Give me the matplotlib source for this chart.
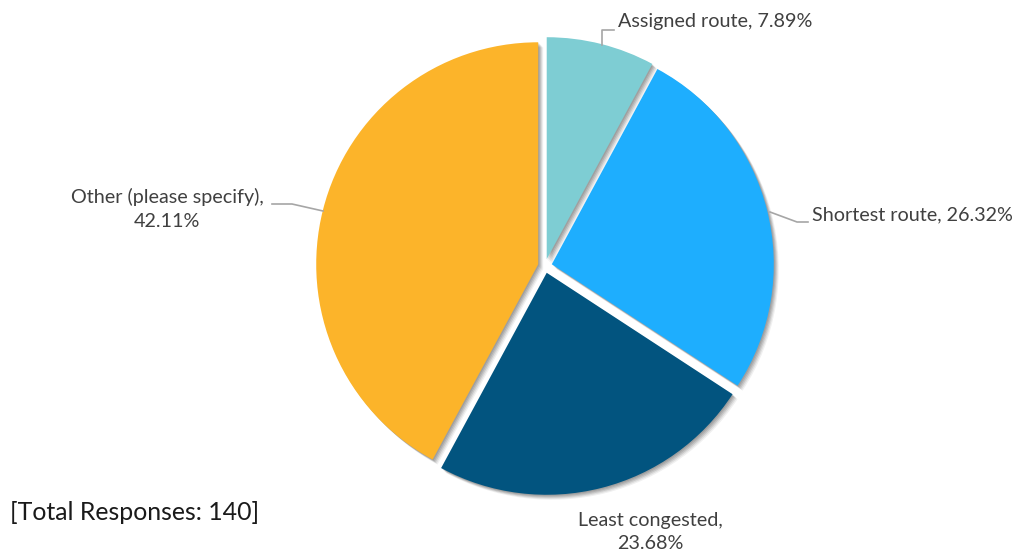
import matplotlib.pyplot as plt

# 数据
labels = ['Assigned route', 'Shortest route', 'Least congested', 'Other (please specify)']
values = [7.89, 26.32, 23.68, 42.11]
colors = ['#7ECDD3', '#1EAEFE', '#02547F', '#FCB42A']
total_responses = 140

plt.rcParams['font.family'] = ['Lato', 'DejaVu Sans']

fig = plt.figure(figsize=(10.18, 5.55), dpi=100)
ax = fig.add_axes([0, 0, 1, 1])

cx, cy, r = 545, 289, 222
explode = [7] * len(values)

# 模糊阴影：几层偏移的灰色饼图叠加
for dx, dy, a in [(1, -1, 0.10), (2, -2, 0.10), (3, -3, 0.10), (4, -4, 0.08), (5, -5, 0.06)]:
    ax.pie(values, radius=r, center=(cx + dx, cy + dy), startangle=90, counterclock=False,
           explode=explode, colors=['#000000'] * len(values),
           wedgeprops=dict(alpha=a, linewidth=0), frame=True)

ax.pie(values, radius=r, center=(cx, cy), startangle=90, counterclock=False,
       explode=explode, colors=colors, wedgeprops=dict(linewidth=0), frame=True)
ax.set_xlim(0, 1018)
ax.set_ylim(0, 555)
ax.set_aspect('equal')
ax.axis('off')

txt = '#404040'
line = '#a6a6a6'
fs = 14.2

# 标签与引线
ax.plot([602, 602, 614], [555 - 45, 555 - 30, 555 - 30], color=line, lw=1.2)
ax.text(618, 555 - 22, f'{labels[0]}, {values[0]:.2f}%', color=txt, fontsize=fs,
        ha='left', va='center')

ax.plot([770, 797, 808], [555 - 212, 555 - 222, 555 - 222], color=line, lw=1.2)
ax.text(812, 555 - 215, f'{labels[1]}, {values[1]:.2f}%', color=txt, fontsize=fs,
        ha='left', va='center')

ax.text(650, 555 - 532, f'{labels[2]},\n{values[2]:.2f}%', color=txt, fontsize=fs,
        ha='center', va='center', linespacing=1.45)

ax.plot([323, 292, 272], [555 - 211, 555 - 204, 555 - 204], color=line, lw=1.2)
ax.text(167, 555 - 209, f'{labels[3]},\n{values[3]:.2f}%', color=txt, fontsize=fs,
        ha='center', va='center', linespacing=1.45)

ax.text(10, 555 - 513, f'[Total Responses: {total_responses}]', color='#1a1a1a',
        fontsize=17.9, ha='left', va='center')

fig.savefig('out.png', dpi=100)
